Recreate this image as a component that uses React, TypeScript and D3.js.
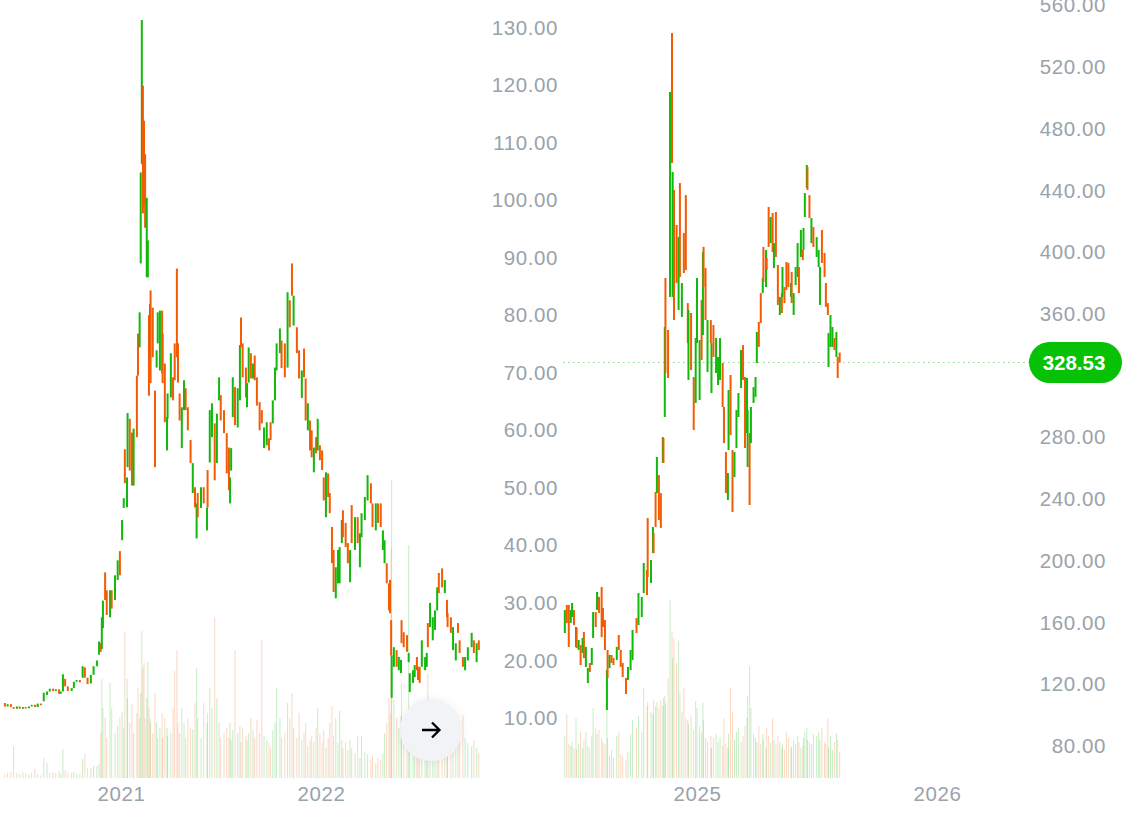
import { useEffect, useRef } from 'react'
import * as d3 from 'd3'

const GREEN = '#12b80c'
const ORANGE = '#f25c05'
const LABEL = '#99a3aa'
const FONT = '"Liberation Sans", Arial, sans-serif'

// Left chart, one entry per candle, days counted from leftStart
const leftStart = new Date(2020, 5, 3)
const leftDays = [
  0, 5, 11, 16, 22, 27, 33, 38, 44, 49,
  55, 60, 66, 71, 77, 82, 88, 93, 99, 102,
  106, 110, 115, 122, 126, 131, 137, 142, 146, 151,
  157, 162, 168, 172, 175, 177, 179, 183, 186, 192,
  195, 201, 206, 210, 214, 217, 219, 223, 224, 228,
  232, 235, 241, 243, 246, 248, 250, 252, 254, 256,
  259, 261, 263, 265, 266, 270, 274, 277, 279, 283,
  287, 288, 292, 296, 297, 303, 307, 310, 314, 316,
  319, 323, 327, 330, 334, 339, 343, 347, 350, 352,
  358, 363, 369, 370, 374, 378, 383, 387, 391, 394,
  400, 405, 409, 411, 413, 416, 420, 425, 429, 431,
  434, 440, 442, 445, 449, 453, 456, 460, 465, 469,
  473, 478, 482, 485, 489, 493, 496, 502, 505, 511,
  516, 520, 524, 527, 533, 537, 542, 546, 549, 553,
  557, 560, 564, 568, 571, 575, 579, 582, 586, 590,
  593, 597, 600, 604, 608, 611, 615, 617, 622, 626,
  630, 633, 639, 644, 648, 651, 657, 662, 668, 671,
  677, 681, 686, 690, 693, 697, 701, 703, 705, 706,
  710, 715, 719, 723, 724, 728, 734, 737, 739, 745,
  748, 752, 754, 757, 761, 767, 770, 772, 776, 781,
  785, 789, 792, 798, 803, 807, 808, 814, 818, 823,
  827, 830, 836, 840, 845, 852, 856, 861, 865,
]
const leftOpen = [
  12.6, 12.0, 12.4, 11.9, 11.6, 12.0, 11.6, 11.9, 11.7, 12.0,
  12.3, 11.9, 12.5, 12.9, 14.0, 14.6, 15.1, 14.7, 15.0, 14.2,
  14.6, 16.8, 15.5, 14.7, 15.2, 16.3, 16.6, 17.0, 18.8, 17.0,
  16.0, 17.5, 19.0, 21.0, 23.0, 22.0, 25.6, 35.3, 32.2, 27.5,
  32.2, 30.5, 34.0, 39.0, 40.9, 46.5, 56.7, 46.6, 53.6, 62.0,
  59.6, 50.4, 69.5, 76.8, 74.4, 89.0, 106.3, 119.9, 113.8, 108.0,
  86.6, 86.6, 80.0, 72.7, 84.3, 81.3, 66.9, 70.9, 75.1, 70.4,
  80.8, 76.8, 71.6, 56.5, 62.0, 65.7, 69.2, 75.1, 88.1, 75.1,
  66.4, 56.9, 63.5, 67.3, 64.0, 58.3, 49.1, 50.1, 41.2, 49.1,
  46.5, 50.1, 42.6, 53.1, 54.4, 58.8, 61.2, 54.3, 65.2, 66.1,
  63.5, 59.5, 57.0, 47.3, 53.0, 62.3, 67.5, 60.5, 65.2, 79.6,
  75.1, 70.9, 64.0, 68.3, 73.4, 69.0, 73.0, 69.2, 64.9, 63.5,
  56.9, 57.4, 58.6, 61.4, 61.2, 65.2, 70.4, 73.4, 75.6, 75.1,
  70.9, 82.6, 89.0, 78.2, 77.9, 73.9, 65.6, 74.2, 69.0, 60.0,
  61.7, 60.0, 52.7, 58.8, 56.5, 57.4, 56.5, 51.8, 44.9, 52.5,
  49.1, 43.2, 39.2, 30.8, 33.4, 33.4, 40.4, 46.1, 43.9, 40.4,
  33.6, 47.0, 39.2, 44.9, 36.2, 41.4, 44.4, 47.8, 50.8, 47.3,
  42.6, 47.3, 47.3, 39.2, 36.9, 36.9, 33.4, 34.0, 27.0, 13.5,
  18.9, 21.8, 18.3, 17.8, 27.0, 24.9, 24.4, 19.7, 14.5, 16.1,
  17.1, 20.6, 18.9, 18.9, 18.9, 18.3, 18.9, 26.5, 25.8, 23.5,
  25.3, 28.7, 35.2, 36.0, 31.7, 30.5, 28.2, 27.5, 21.8, 20.0,
  26.5, 23.5, 20.6, 18.3, 20.0, 22.3, 23.5, 19.7, 23.5,
]
const leftClose = [
  12.0, 12.4, 11.9, 11.6, 12.0, 11.6, 11.9, 11.7, 12.0, 12.3,
  11.9, 12.5, 12.3, 14.4, 14.6, 15.1, 14.7, 15.0, 14.2, 14.6,
  17.6, 15.5, 14.7, 15.2, 16.3, 16.6, 16.2, 19.0, 17.0, 15.9,
  17.5, 19.0, 20.0, 23.3, 21.5, 27.5, 30.4, 30.5, 27.9, 32.2,
  29.0, 34.8, 37.4, 34.8, 44.4, 48.2, 50.8, 51.8, 63.0, 53.0,
  50.4, 60.3, 58.8, 69.5, 80.5, 104.8, 131.3, 97.7, 99.0, 95.2,
  100.4, 93.0, 66.0, 82.0, 68.2, 72.7, 53.6, 73.9, 80.5, 80.8,
  69.9, 68.2, 61.4, 62.3, 66.4, 73.4, 65.2, 68.7, 72.7, 68.3,
  61.7, 64.0, 68.7, 63.5, 60.0, 54.3, 54.3, 46.6, 47.3, 44.9,
  50.1, 47.3, 46.6, 46.6, 63.5, 64.7, 51.3, 62.9, 69.2, 61.7,
  59.5, 52.5, 49.6, 51.8, 56.9, 69.2, 60.9, 67.3, 74.8, 74.4,
  69.2, 65.7, 68.2, 74.4, 69.0, 71.6, 68.7, 64.3, 60.0, 61.2,
  60.5, 61.4, 56.5, 58.3, 65.2, 70.9, 75.1, 77.7, 70.8, 69.2,
  84.0, 77.9, 83.4, 83.4, 73.4, 69.0, 70.4, 69.2, 61.7, 64.7,
  56.5, 55.3, 57.0, 56.0, 62.0, 54.8, 53.1, 47.8, 52.7, 48.4,
  45.6, 36.9, 31.9, 36.2, 39.2, 39.7, 44.4, 41.4, 39.7, 36.9,
  39.2, 40.4, 44.9, 40.4, 42.1, 45.6, 48.4, 52.2, 47.3, 43.2,
  47.3, 43.9, 43.2, 42.6, 40.9, 33.4, 28.7, 28.2, 20.9, 20.9,
  22.3, 18.9, 20.6, 20.1, 23.0, 22.3, 21.5, 21.3, 17.8, 18.3,
  19.2, 18.3, 16.6, 16.1, 23.5, 20.6, 21.3, 22.3, 30.0, 27.5,
  28.7, 32.7, 31.7, 32.7, 34.0, 27.5, 25.8, 24.8, 25.8, 23.0,
  24.8, 21.3, 18.9, 20.6, 22.3, 24.8, 21.3, 23.0, 21.8,
]
const leftVolume = [
  4, 5, 6, 32, 5, 4, 6, 5, 3, 5,
  9, 4, 3, 20, 15, 5, 6, 5, 7, 4,
  29, 8, 6, 5, 6, 4, 4, 19, 24, 10,
  10, 12, 12, 14, 45, 99, 70, 60, 40, 95,
  70, 45, 52, 60, 66, 50, 146, 99, 80, 55,
  74, 45, 65, 90, 60, 85, 147, 110, 115, 60,
  80, 116, 70, 60, 55, 45, 85, 55, 40, 50,
  65, 40, 60, 50, 42, 45, 70, 107, 128, 55,
  45, 70, 55, 40, 60, 50, 49, 75, 110, 60,
  40, 75, 55, 65, 90, 70, 161, 80, 55, 40,
  45, 50, 40, 55, 38, 48, 128, 45, 52, 36,
  50, 42, 38, 45, 60, 48, 40, 58, 45, 138,
  42, 38, 35, 30, 48, 55, 90, 60, 40, 45,
  75, 60, 85, 50, 40, 65, 38, 45, 55, 32,
  38, 42, 36, 50, 70, 44, 36, 48, 30, 40,
  55, 72, 42, 60, 35, 67, 38, 30, 36, 28,
  38, 30, 25, 42, 20, 42, 26, 24, 18, 22,
  15, 20, 18, 25, 45, 55, 80, 65, 230, 298,
  78, 60, 50, 62, 95, 45, 58, 233, 48, 40,
  36, 42, 30, 38, 60, 45, 50, 105, 55, 40,
  38, 42, 30, 36, 28, 40, 35, 44, 30, 50,
  62, 45, 63, 40, 35, 32, 38, 30, 25,
]
const leftTicks = [10, 20, 30, 40, 50, 60, 70, 80, 90, 100, 110, 120, 130]

// Right chart
const rightStart = new Date(2024, 5, 14)
const rightDays = [
  0, 3, 6, 9, 11, 14, 17, 18, 21, 24,
  27, 29, 32, 35, 38, 41, 43, 47, 49, 52,
  56, 58, 61, 64, 65, 68, 71, 74, 79, 82,
  85, 88, 93, 96, 100, 103, 109, 112, 117, 120,
  125, 126, 131, 134, 135, 138, 140, 143, 146, 149,
  150, 152, 153, 157, 160, 163, 164, 166, 170, 173,
  175, 178, 181, 184, 187, 188, 192, 196, 199, 201,
  205, 208, 210, 211, 214, 217, 222, 223, 226, 230,
  233, 236, 240, 242, 245, 248, 249, 252, 255, 258,
  261, 264, 268, 271, 274, 277, 278, 281, 283, 287,
  290, 292, 295, 298, 301, 302, 306, 307, 310, 313,
  316, 318, 321, 324, 327, 330, 331, 334, 337, 340,
  344, 345, 348, 351, 354, 356, 359, 362, 363, 365,
  368, 369, 372, 375, 378, 383, 386, 388, 391, 395,
  397, 400, 401, 404, 407, 410, 413, 415, 418,
]
const rightOpen = [
  153.2, 171.4, 171.4, 159.7, 163.6, 168.1, 144.2, 156.5, 142.2, 145.4,
  140.3, 153.9, 131.2, 120.8, 133.8, 132.5, 150.0, 166.8, 168.1, 176.6,
  183.0, 169.4, 161.6, 103.3, 142.2, 130.5, 139.0, 137.0, 135.7, 151.9,
  142.2, 133.8, 124.1, 122.8, 129.2, 135.7, 162.9, 158.4, 163.6, 179.1,
  194.0, 227.7, 185.6, 205.0, 218.0, 244.6, 243.9, 255.6, 243.9, 263.4,
  279.6, 293.2, 383.3, 349.6, 371.0, 542.0, 371.0, 440.3, 417.6, 362.5,
  444.8, 358.0, 412.4, 437.0, 367.0, 317.2, 360.6, 319.1, 302.3, 341.1,
  304.2, 369.0, 346.3, 403.4, 389.7, 322.4, 356.0, 308.7, 352.8, 321.7,
  313.9, 317.2, 328.2, 299.7, 270.5, 239.4, 271.8, 320.4, 271.8, 254.3,
  273.1, 293.2, 312.0, 339.8, 319.1, 282.8, 260.8, 282.8, 276.3, 302.3,
  306.2, 328.2, 354.8, 373.5, 373.5, 403.4, 377.4, 396.2, 429.3, 405.9,
  425.4, 389.7, 426.0, 391.7, 359.3, 373.5, 371.0, 377.4, 393.6, 393.0,
  371.0, 387.2, 359.3, 378.7, 383.9, 390.4, 396.9, 401.4, 401.4, 422.8,
  441.6, 455.2, 437.0, 405.9, 416.3, 396.9, 390.4, 365.8, 414.4, 399.5,
  380.0, 367.0, 325.6, 338.6, 338.6, 344.4, 332.1, 332.1, 335.0,
]
const rightClose = [
  168.1, 159.7, 144.2, 168.1, 172.7, 158.4, 157.1, 143.5, 148.7, 132.5,
  150.0, 137.0, 144.2, 130.5, 128.0, 143.5, 166.8, 157.1, 179.8, 166.2,
  150.6, 157.1, 142.2, 129.2, 124.1, 139.0, 133.8, 132.5, 144.2, 142.2,
  131.2, 124.7, 113.7, 131.2, 142.2, 155.2, 153.2, 179.1, 176.6, 198.6,
  177.8, 189.5, 200.5, 221.9, 205.0, 221.9, 267.3, 226.4, 221.3, 280.2,
  263.4, 351.5, 321.7, 318.5, 503.8, 457.8, 452.0, 356.0, 380.0, 409.8,
  383.9, 380.0, 386.5, 388.4, 341.1, 362.5, 323.6, 284.8, 344.4, 383.3,
  343.1, 330.1, 400.1, 377.4, 356.0, 356.0, 341.1, 341.1, 332.1, 344.4,
  332.1, 344.4, 299.7, 276.3, 243.9, 256.9, 310.7, 281.5, 231.6, 270.5,
  297.7, 308.7, 336.6, 317.2, 273.1, 318.5, 297.7, 236.2, 299.7, 312.6,
  319.1, 348.3, 338.6, 354.1, 383.3, 380.7, 401.4, 388.4, 403.4, 422.8,
  400.1, 405.9, 396.9, 365.8, 371.0, 360.6, 390.4, 367.0, 375.5, 377.4,
  380.0, 367.0, 373.5, 390.4, 405.9, 373.5, 414.4, 394.9, 415.7, 438.3,
  456.5, 440.3, 422.1, 422.1, 403.4, 409.8, 401.4, 390.4, 393.0, 383.9,
  364.5, 359.3, 347.6, 359.3, 351.5, 336.6, 348.3, 318.5, 328.53,
]
const rightVolume = [
  42, 64, 34, 32, 36, 30, 60, 28, 34, 46,
  30, 38, 46, 32, 30, 42, 70, 50, 44, 48,
  40, 36, 34, 95, 40, 22, 28, 20, 42, 46,
  24, 22, 18, 26, 44, 58, 50, 62, 46, 90,
  72, 76, 66, 64, 78, 72, 76, 70, 78, 72,
  80, 82, 75, 100, 178, 147, 120, 139, 115, 137,
  85, 66, 90, 60, 58, 54, 62, 48, 77, 70,
  52, 46, 75, 58, 40, 36, 42, 30, 40, 44,
  36, 40, 32, 60, 34, 30, 44, 90, 66, 38,
  46, 50, 36, 42, 52, 60, 82, 112, 70, 44,
  40, 36, 52, 34, 44, 38, 30, 50, 42, 35,
  60, 38, 34, 42, 36, 30, 34, 28, 46, 40,
  32, 30, 38, 34, 42, 36, 30, 32, 40, 46,
  50, 38, 36, 34, 44, 42, 46, 38, 50, 36,
  34, 60, 30, 42, 28, 36, 45, 38, 26,
]
const rightTicks = [80, 120, 160, 200, 240, 280, 360, 400, 440, 480, 520, 560]

type Svg = d3.Selection<SVGSVGElement, unknown, null, undefined>

function drawCandles(
  svg: Svg,
  start: Date,
  days: number[],
  open: number[],
  close: number[],
  volume: number[],
  x: d3.ScaleTime<number, number>,
  y: d3.ScaleLinear<number, number>,
) {
  const volumeY = d3.scaleLinear().domain([0, 300]).range([778, 478])
  const barX = (i: number) => x(d3.timeDay.offset(start, days[i]))
  const color = (i: number) => (close[i] >= open[i] ? GREEN : ORANGE)

  svg.append('g')
    .selectAll('rect')
    .data(d3.range(days.length))
    .join('rect')
    .attr('x', i => barX(i) - 0.5)
    .attr('width', 1)
    .attr('y', i => volumeY(volume[i]))
    .attr('height', i => volumeY(0) - volumeY(volume[i]))
    .attr('fill', color)
    .attr('fill-opacity', 0.24)

  svg.append('g')
    .selectAll('rect')
    .data(d3.range(days.length))
    .join('rect')
    .attr('x', i => barX(i) - 1)
    .attr('width', 2)
    .attr('y', i => y(Math.max(open[i], close[i])))
    .attr('height', i => Math.max(1.5, Math.abs(y(open[i]) - y(close[i]))))
    .attr('fill', color)
}

function drawAxes(
  svg: Svg,
  x: d3.ScaleTime<number, number>,
  y: d3.ScaleLinear<number, number>,
  ticks: number[],
  labelRight: number,
  years: number[],
) {
  const yAxis = svg.append('g')
    .attr('transform', `translate(${labelRight},0)`)
    .call(d3.axisLeft(y).tickValues(ticks).tickSize(0).tickPadding(0).tickFormat(d3.format('.2f')))
  const xAxis = svg.append('g')
    .attr('transform', 'translate(0,786)')
    .call(d3.axisBottom(x).tickValues(years.map(t => new Date(t, 0, 1))).tickSize(0).tickPadding(0)
      .tickFormat(d3.timeFormat('%Y') as any))

  for (const axis of [yAxis, xAxis]) {
    axis.select('.domain').remove()
    axis.selectAll('text')
      .attr('fill', LABEL)
      .style('font-family', FONT)
      .style('font-size', '20.5px')
      .style('letter-spacing', '0.6px')
  }
}

export default function App() {
  const svgRef = useRef<SVGSVGElement>(null)

  useEffect(() => {
    if (!svgRef.current) return
    const svg = d3.select(svgRef.current)
    svg.selectAll('*').remove()

    const leftX = d3.scaleTime()
      .domain([new Date(2021, 0, 1), new Date(2022, 0, 1)])
      .range([121, 321])
    const leftY = d3.scaleLinear().domain([10, 130]).range([718, 27.5])
    const rightX = d3.scaleTime()
      .domain([new Date(2025, 0, 1), new Date(2026, 0, 1)])
      .range([697, 937])
    const rightY = d3.scaleLinear().domain([80, 520]).range([746, 67])

    const defs = svg.append('defs')
    defs.append('filter')
      .attr('id', 'button-shadow')
      .attr('x', '-30%').attr('y', '-30%').attr('width', '160%').attr('height', '160%')
      .append('feDropShadow')
      .attr('dx', 0).attr('dy', 1).attr('stdDeviation', 4)
      .attr('flood-color', '#000').attr('flood-opacity', 0.08)

    // last price line goes under the candles
    const lastPrice = rightClose[rightClose.length - 1]
    svg.append('line')
      .attr('x1', 563).attr('x2', 1030)
      .attr('y1', rightY(lastPrice)).attr('y2', rightY(lastPrice))
      .attr('stroke', GREEN)
      .attr('stroke-opacity', 0.5)
      .attr('stroke-dasharray', '1.5 3.5')

    drawCandles(svg, leftStart, leftDays, leftOpen, leftClose, leftVolume, leftX, leftY)
    drawCandles(svg, rightStart, rightDays, rightOpen, rightClose, rightVolume, rightX, rightY)

    drawAxes(svg, leftX, leftY, leftTicks, 558, [2021, 2022])
    drawAxes(svg, rightX, rightY, rightTicks, 1106, [2025, 2026])

    // price badge
    svg.append('rect')
      .attr('x', 1029).attr('width', 93)
      .attr('y', rightY(lastPrice) - 20.5).attr('height', 41)
      .attr('rx', 20.5)
      .attr('fill', '#07c107')
    svg.append('text')
      .attr('x', 1074).attr('y', rightY(lastPrice))
      .attr('dy', '0.35em')
      .attr('text-anchor', 'middle')
      .attr('fill', '#fff')
      .attr('font-family', FONT)
      .attr('font-size', 20.5)
      .attr('font-weight', 700)
      .text(d3.format('.2f')(lastPrice))

    // scroll button
    const button = svg.append('g').attr('transform', 'translate(431,730)')
    button.append('circle')
      .attr('r', 31)
      .attr('fill', '#f1f3f7')
      .attr('filter', 'url(#button-shadow)')
    button.append('path')
      .attr('d', d3.line()([[-9, 0], [8.5, 0]]) + (d3.line()([[1, -7.5], [8.5, 0], [1, 7.5]]) as string))
      .attr('fill', 'none')
      .attr('stroke', '#000')
      .attr('stroke-width', 2.3)
  }, [])

  return (
    <svg
      ref={svgRef}
      width={1125}
      height={820}
      style={{ position: 'absolute', left: 0, top: 0, background: '#fff' }}
    />
  )
}
